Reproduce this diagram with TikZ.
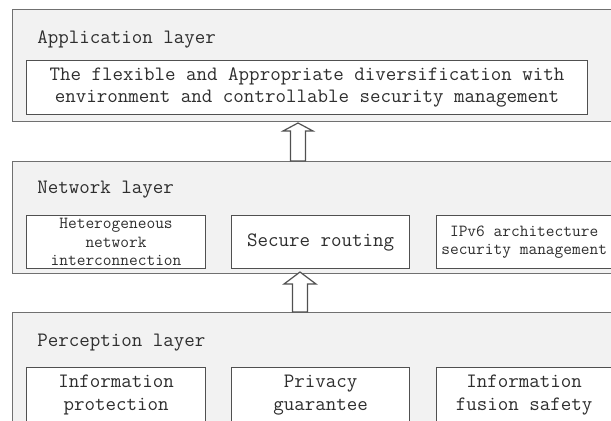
\documentclass[tikz,border=0pt]{standalone}
\usepackage{fontspec}
\usetikzlibrary{positioning}
\definecolor{layerfill}{HTML}{F2F2F2}
\definecolor{linegray}{HTML}{707070}
\definecolor{boxgray}{HTML}{505050}
\definecolor{textgray}{HTML}{2E2E2E}
\tikzset{
 layer/.style   = {draw=linegray, line width=1.1pt, fill=layerfill, anchor=north west,
                   minimum width=471pt},
 layertxt/.style= {anchor=west, inner sep=0pt, text=textgray,
                   font=\ttfamily\fontsize{15.3}{17}\selectfont},
 unit/.style    = {draw=boxgray, line width=0.8pt, fill=white, align=center, inner sep=0pt,
                   text=textgray, font=\ttfamily\fontsize{15.3}{17}\selectfont},
 small/.style   = {font=\ttfamily\fontsize{12.7}{13.9}\selectfont},
 uparrow/.style = {draw=boxgray, line width=0.9pt, fill=white, line join=miter}
}
\begin{document}
\begin{tikzpicture}[x=0.75pt, y=-0.75pt]
 \useasboundingbox[fill=white] (0,0) rectangle (611,421);
 \clip (0,0) rectangle (611,421);

 \node[layer, minimum height=84pt,  name=app ] at (12,9)   {};
 \node[layer, minimum height=84pt,  name=net ] at (12,161) {};
 \node[layer, minimum height=100pt, name=perc] at (12,312) {};

 \node[layertxt, name=appT ] at (37,39)  {Application layer};
 \node[layertxt, name=netT ] at (37,190) {Network layer};
 \node[layertxt, name=percT] at (37,343) {Perception layer};

 \node[unit, anchor=north west, minimum width=420.75pt, minimum height=40.5pt, name=appU,
       font=\ttfamily\fontsize{15.3}{16.5}\selectfont] at (26,60)
       {The flexible and Appropriate diversification with\\environment and controllable security management};

 \node[unit, small, anchor=north west, minimum width=134.25pt, minimum height=39.75pt, name=netA] at (26,215)
       {Heterogeneous\\network\\interconnection};
 \node[unit,        right=18.75pt of netA, minimum width=133.5pt,  minimum height=39.75pt, name=netB]
       {Secure routing};
 \node[unit, small, right=19.5pt of netB,  minimum width=131.25pt, minimum height=39.75pt, name=netC,
       font=\ttfamily\fontsize{12.7}{13.5}\selectfont]
       {IPv6 architecture\\security management};

 \node[unit, anchor=north west, minimum width=134.25pt, minimum height=41.25pt, name=percA] at (26,367)
       {Information\\protection};
 \node[unit, right=18.75pt of percA, minimum width=133.5pt,  minimum height=41.25pt, name=percB]
       {Privacy\\guarantee};
 \node[unit, right=19.5pt of percB,  minimum width=131.25pt, minimum height=41.25pt, name=percC]
       {Information\\fusion safety};

 \coordinate (x1) at (298,0);
 \coordinate (x2) at (300,0);
 \coordinate (a1) at (x1 |- net.north);
 \coordinate (a2) at (x2 |- perc.north);
 \draw[uparrow] (a1) ++(-7.5,0) -- ++(0,-30) -- ++(-7.5,0) -- ++(15,-8)
                -- ++(15,8) -- ++(-7.5,0) -- ++(0,30) -- cycle;
 \draw[uparrow] (a2) ++(-7.5,0) -- ++(0,-28) -- ++(-8.5,0) -- ++(16,-12)
                -- ++(16,12) -- ++(-8.5,0) -- ++(0,28) -- cycle;
\end{tikzpicture}
\end{document}
